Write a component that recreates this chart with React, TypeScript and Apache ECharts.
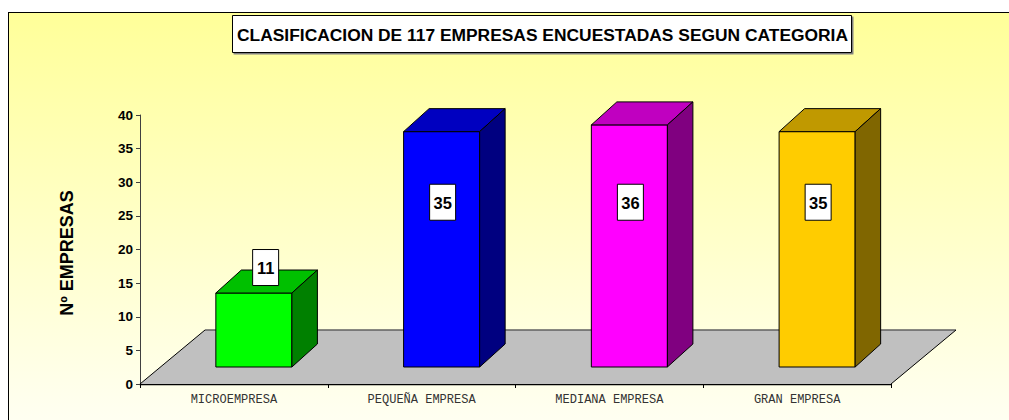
import React, { useEffect, useRef } from "react";
import * as echarts from "echarts";

const titleText = "CLASIFICACION DE 117 EMPRESAS ENCUESTADAS SEGUN CATEGORIA";
const yAxisName = "Nº EMPRESAS";
const categories = ["MICROEMPRESA", "PEQUEÑA EMPRESA", "MEDIANA EMPRESA", "GRAN EMPRESA"];
const values = [11, 35, 36, 35];
const frontColors = ["#00FF00", "#0000FF", "#FF00FF", "#FFCC00"];
const topColors = ["#00C000", "#0000C0", "#C000C0", "#C09900"];
const sideColors = ["#008000", "#000080", "#800080", "#806600"];
const yMin = 0;
const yMax = 40;
const yInterval = 5;

// 3D geometry (pixels)
const FLOOR_DX = 65;
const FLOOR_DY = 54;
const BAR_FRONT_DX = 20;
const BAR_FRONT_DY = 17;
const BAR_DX = 25.5;
const BAR_DY = 23;
const BAR_W_RATIO = 0.405;

const SANS = "'Liberation Sans', Arial, sans-serif";

export default function App() {
  const ref = useRef<HTMLDivElement>(null);
  useEffect(() => {
    if (!ref.current) return;
    const chart = echarts.init(ref.current, undefined, { renderer: "svg" });
    const n = categories.length;
    const option: any = {
      animation: false,
      backgroundColor: "transparent",
      grid: { left: 140, right: 118, top: 115, bottom: 36, containLabel: false },
      xAxis: {
        type: "category",
        data: categories,
        axisLine: { show: true, lineStyle: { color: "#000", width: 1.3 } },
        axisTick: { show: true, alignWithLabel: false, length: 4, lineStyle: { color: "#000" } },
        axisLabel: {
          interval: 0,
          margin: 10,
          fontFamily: "'Liberation Mono', monospace",
          fontSize: 12,
          color: "#333",
        },
        splitLine: { show: false },
      },
      yAxis: {
        type: "value",
        min: yMin,
        max: yMax,
        interval: yInterval,
        axisLine: { show: true, lineStyle: { color: "#404040", width: 1 } },
        axisTick: { show: true, length: 4, lineStyle: { color: "#404040" } },
        axisLabel: { margin: 7, fontFamily: SANS, fontWeight: "bold", fontSize: 13.5, color: "#000" },
        splitLine: { show: false },
      },
      graphic: [
        {
          type: "rect",
          shape: { x: 232.5, y: 15.5, width: 619, height: 37 },
          style: {
            fill: "#FFFFFF",
            stroke: "#000",
            lineWidth: 1,
            shadowColor: "#808080",
            shadowOffsetX: 1.5,
            shadowOffsetY: 1.5,
            shadowBlur: 0,
          },
        },
        {
          type: "text",
          x: 542.5,
          y: 34.5,
          style: {
            text: titleText,
            align: "center",
            verticalAlign: "middle",
            fontFamily: SANS,
            fontWeight: "bold",
            fontSize: 17.4,
            fill: "#000",
          },
        },
        {
          type: "text",
          x: 67,
          y: 253,
          rotation: Math.PI / 2,
          style: {
            text: yAxisName,
            align: "center",
            verticalAlign: "middle",
            fontFamily: SANS,
            fontWeight: "bold",
            fontSize: 18,
            fill: "#000",
          },
        },
      ],
      series: [
        {
          type: "custom",
          name: "floor",
          data: [[0, 0]],
          z: 1,
          renderItem: (params: any, api: any) => {
            const first = api.coord([0, 0]);
            const last = api.coord([n - 1, 0]);
            const band = api.size([1, 0])[0];
            const l = first[0] - band / 2;
            const r = last[0] + band / 2;
            const y = first[1];
            return {
              type: "group",
              children: [
                {
                  type: "polygon",
                  shape: {
                    points: [
                      [l, y],
                      [r, y],
                      [r + FLOOR_DX, y - FLOOR_DY],
                      [l + FLOOR_DX, y - FLOOR_DY],
                    ],
                  },
                  style: { fill: "#C0C0C0", stroke: "none" },
                },
                {
                  type: "polyline",
                  shape: { points: [[l + FLOOR_DX, y - FLOOR_DY], [r + FLOOR_DX, y - FLOOR_DY]] },
                  style: { fill: "none", stroke: "#606060", lineWidth: 1.5 },
                },
                {
                  type: "polyline",
                  shape: { points: [[l, y], [l + FLOOR_DX, y - FLOOR_DY]] },
                  style: { fill: "none", stroke: "#000", lineWidth: 1 },
                },
                {
                  type: "polyline",
                  shape: { points: [[r, y], [r + FLOOR_DX, y - FLOOR_DY]] },
                  style: { fill: "none", stroke: "#000", lineWidth: 1 },
                },
              ],
            };
          },
        },
        {
          type: "custom",
          name: "empresas",
          data: values.map((v, i) => [i, v]),
          z: 3,
          renderItem: (params: any, api: any) => {
            const i = params.dataIndex;
            const idx = api.value(0);
            const v = api.value(1);
            const base = api.coord([idx, 0]);
            const top = api.coord([idx, v]);
            const unit = base[1] - api.coord([idx, 1])[1];
            const h = base[1] - top[1];
            const band = api.size([1, 0])[0];
            const w = band * BAR_W_RATIO;
            const cx = base[0] + BAR_FRONT_DX;
            const x0 = cx - w / 2;
            const x1 = cx + w / 2;
            const yb = base[1] - BAR_FRONT_DY;
            const yt = yb - h;
            const stroke = { stroke: "#000", lineWidth: 1, lineJoin: "round" };
            const inside = v >= 20;
            const lx = inside ? cx + 1 : cx + BAR_DX / 2 - 1;
            const ly = inside ? yb - 24.5 * unit : yt - 25.5;
            const bw = 26;
            const bh = 36;
            return {
              type: "group",
              children: [
                {
                  type: "rect",
                  shape: { x: x0, y: yt, width: w, height: h },
                  style: { fill: frontColors[i], ...stroke },
                },
                {
                  type: "polygon",
                  shape: {
                    points: [
                      [x0, yt],
                      [x1, yt],
                      [x1 + BAR_DX, yt - BAR_DY],
                      [x0 + BAR_DX, yt - BAR_DY],
                    ],
                  },
                  style: { fill: topColors[i], ...stroke },
                },
                {
                  type: "polygon",
                  shape: {
                    points: [
                      [x1, yt],
                      [x1 + BAR_DX, yt - BAR_DY],
                      [x1 + BAR_DX, yb - BAR_DY],
                      [x1, yb],
                    ],
                  },
                  style: { fill: sideColors[i], ...stroke },
                },
                {
                  type: "rect",
                  shape: { x: lx - bw / 2, y: ly - bh / 2, width: bw, height: bh },
                  style: { fill: "#FFFFFF", stroke: "#000", lineWidth: 1 },
                },
                {
                  type: "text",
                  x: lx,
                  y: ly + 0.5,
                  style: {
                    text: String(v),
                    align: "center",
                    verticalAlign: "middle",
                    fontFamily: SANS,
                    fontWeight: "bold",
                    fontSize: 16.5,
                    fill: "#000",
                  },
                },
              ],
            };
          },
        },
      ],
    };
    chart.setOption(option);
    return () => chart.dispose();
  }, []);

  return (
    <div
      style={{
        position: "absolute",
        left: 0,
        top: 0,
        width: 1009,
        height: 420,
        overflow: "hidden",
        background: "#FFFFFF",
      }}
    >
      <div
        style={{
          position: "absolute",
          left: 8,
          top: 12,
          width: 1100,
          height: 500,
          borderLeft: "1px solid #000",
          borderTop: "1px solid #000",
          background: "linear-gradient(to bottom, #FFFF99 0px, #FFFFF0 400px, #FFFFFF 500px)",
        }}
      />
      <div ref={ref} style={{ position: "absolute", left: 0, top: 0, width: 1009, height: 420 }} />
    </div>
  );
}
